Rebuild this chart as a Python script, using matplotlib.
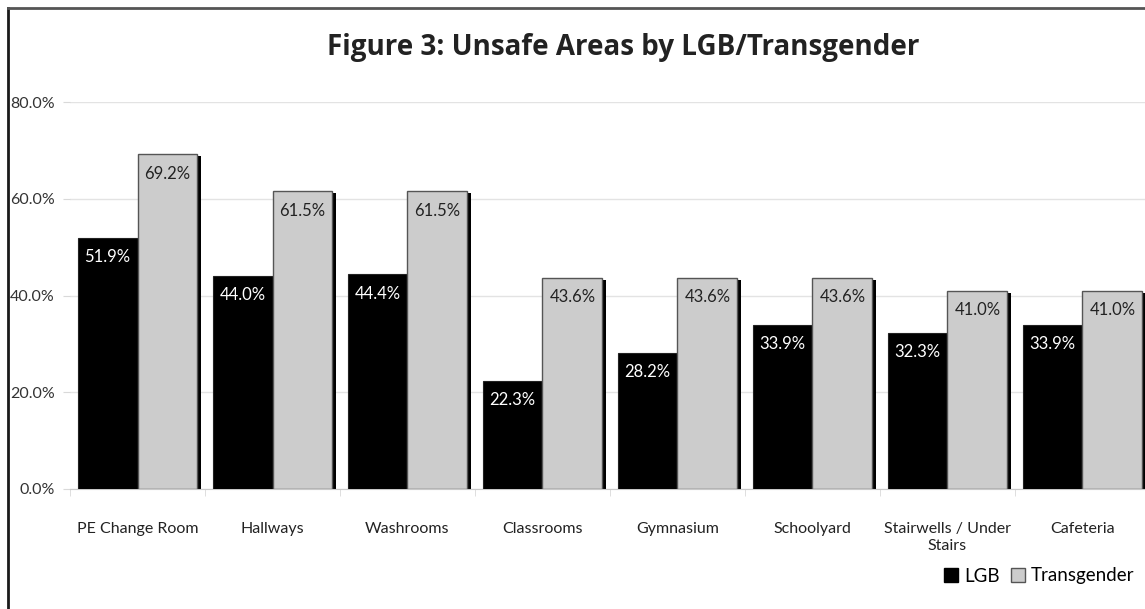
import numpy as np
import matplotlib.pyplot as plt
from matplotlib.lines import Line2D

# Data
categories = ['PE Change Room', 'Hallways', 'Washrooms', 'Classrooms',
              'Gymnasium', 'Schoolyard', 'Stairwells / Under\nStairs', 'Cafeteria']
lgb = [51.9, 44.0, 44.4, 22.3, 28.2, 33.9, 32.3, 33.9]
transgender = [69.2, 61.5, 61.5, 43.6, 43.6, 43.6, 41.0, 41.0]
y_ticks = [0, 20, 40, 60, 80]

plt.rcParams['font.family'] = ['Lato', 'DejaVu Sans']

fig = plt.figure(figsize=(11.45, 6.09), dpi=100)
ax = fig.add_axes([70 / 1145, 1 - 489 / 609, 1080 / 1145, 387 / 609])

x = np.arange(len(categories))
w = 0.444

# LGB bars (black)
ax.bar(x - w / 2, lgb, width=w, color='black', edgecolor='#222222',
       linewidth=0.8, zorder=3)
# shadow behind the transgender bars
ax.bar(x + w / 2 + 0.03, np.array(transgender) - 0.4, width=w, color='black',
       linewidth=0, zorder=2.5)
ax.bar(x + w / 2, transgender, width=w, color='#cccccc', edgecolor='#555555',
       linewidth=1.0, zorder=3)

for i in range(len(categories)):
    ax.text(x[i] - w / 2, lgb[i] - 4, f'{lgb[i]:.1f}%', ha='center', va='center',
            color='white', fontsize=12, zorder=5)
    ax.text(x[i] + w / 2, transgender[i] - 4, f'{transgender[i]:.1f}%',
            ha='center', va='center', color='#222222', fontsize=12, zorder=5)

ax.set_xlim(-0.5, 7.5)
ax.set_ylim(0, 80)
ax.set_yticks(y_ticks)
ax.set_yticklabels([f'{v:.1f}%' for v in y_ticks], fontsize=11.5, color='#333333')
ax.set_xticks(x)
ax.set_xticklabels(categories, fontsize=11.5, color='#222222')
ax.set_xticks(np.arange(-0.5, 8, 1), minor=True)
ax.tick_params(axis='x', which='major', length=0, pad=24)
ax.tick_params(axis='x', which='minor', length=5, color='#d9d9d9')
ax.tick_params(axis='y', length=5, color='#d9d9d9', pad=6)
ax.grid(axis='y', color='#e3e3e3', linewidth=1, zorder=0)
for s in ['top', 'right', 'left']:
    ax.spines[s].set_visible(False)
ax.spines['bottom'].set_color('#c8c8c8')

handles = [plt.Rectangle((0, 0), 1, 1, facecolor='black', edgecolor='black'),
           plt.Rectangle((0, 0), 1, 1, facecolor='#cccccc', edgecolor='#555555')]
fig.legend(handles, ['LGB', 'Transgender'], loc='center right',
           bbox_to_anchor=(1.005, 1 - 576 / 609), ncol=2, frameon=False,
           fontsize=13.5, handlelength=0.75, handleheight=0.75, handletextpad=0.3,
           columnspacing=0.6)

fig.text(623 / 1145, 1 - 47 / 609, 'Figure 3: Unsafe Areas by LGB/Transgender',
         ha='center', va='center', fontsize=20, fontweight='bold',
         color='#222222', family=['Open Sans', 'DejaVu Sans'])

# outer frame lines
fig.add_artist(Line2D([8 / 1145, 8 / 1145], [0, 1 - 8 / 609],
                      transform=fig.transFigure, color='#1a1a1a', linewidth=2))
fig.add_artist(Line2D([8 / 1145, 1], [1 - 8 / 609, 1 - 8 / 609],
                      transform=fig.transFigure, color='#555555', linewidth=2))

fig.savefig('out.png', dpi=100)
